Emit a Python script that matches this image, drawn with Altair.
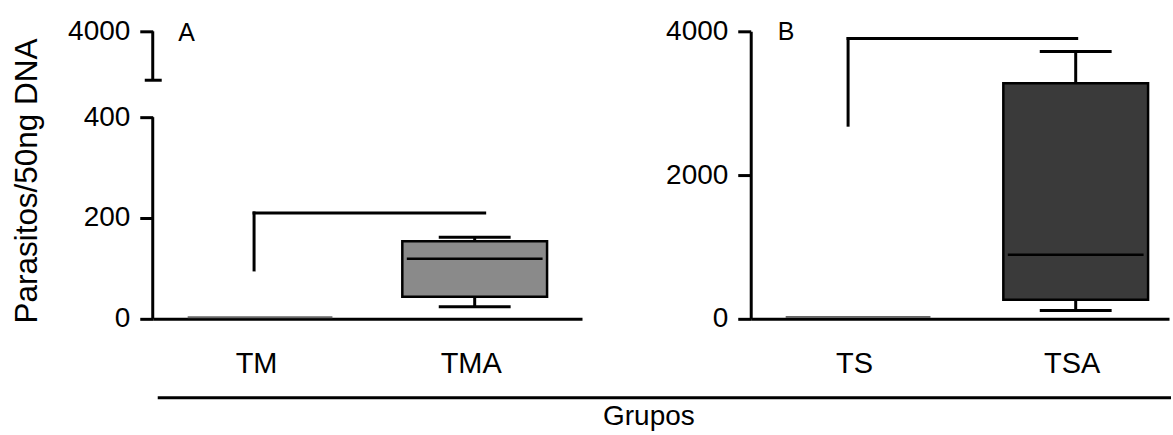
import altair as alt
import pandas as pd

# ---- data ----
groups_a = ["TM", "TMA"]
a_min = [3, 24]
a_q1 = [3, 44]
a_median = [3, 119]
a_q3 = [3, 154]
a_max = [3, 162]

groups_b = ["TS", "TSA"]
b_min = [25, 115]
b_q1 = [25, 264]
b_median = [25, 893]
b_q3 = [25, 3278]
b_max = [25, 3718]

bracket_a = {"from": ["TM"], "to": ["TMA"], "top": [210], "bottom": [97]}
bracket_b = {"from": ["TS"], "to": ["TSA"], "top": [3899], "bottom": [2694]}

# broken y axis of panel A: lower segment 0-400, upper segment 500-4000
a_seg_start = [0, 500]
a_seg_end = [400, 4000]
a_break_value = [500]

ticks_a = [0, 200, 400, 4000]
ticks_b = [0, 2000, 4000]

FONT = "Liberation Sans"


def y_axis(values, title=None, domain=True, **kw):
    return alt.Axis(values=values, tickSize=13, tickWidth=3, domain=domain, domainWidth=3,
                    labelFontSize=28, labelPadding=10, grid=False,
                    labelFlush=False, labelOverlap=False, format="d",
                    title=title, **kw)


x_axis = alt.Axis(ticks=False, domainWidth=3, labelFontSize=29, labelPadding=31,
                  labelOffset=-4, labelAngle=0, grid=False, title=None)


def panel_layers(groups, mins, q1s, meds, q3s, maxs, bracket, xscale, yscale, yaxis,
                 fill, br_dx, br_dx2):
    df = pd.DataFrame(dict(group=groups, lo=mins, q1=q1s, med=meds, q3=q3s, hi=maxs))

    def Y(f):
        return alt.Y(f"{f}:Q", scale=yscale, axis=yaxis, title=None)

    X = alt.X("group:N", scale=xscale, axis=x_axis, title=None)
    base = alt.Chart(df)
    real = base.transform_filter("datum.q3 - datum.q1 > 10")
    flat = base.transform_filter("datum.q3 - datum.q1 <= 10")

    box = real.mark_bar(size=145, fill=fill, stroke="black", strokeWidth=2.5).encode(
        x=X, y=Y("q1"), y2="q3")
    w_up = real.mark_rule(strokeWidth=3, color="black").encode(x=X, y=Y("q3"), y2="hi")
    w_lo = real.mark_rule(strokeWidth=3, color="black").encode(x=X, y=Y("lo"), y2="q1")
    cap_up = real.mark_tick(size=72, thickness=3, color="black", opacity=1).encode(x=X, y=Y("hi"))
    cap_lo = real.mark_tick(size=72, thickness=3, color="black", opacity=1).encode(x=X, y=Y("lo"))
    med = real.mark_tick(size=136, thickness=2.5, color="black", opacity=1).encode(x=X, y=Y("med"))
    flat_line = flat.mark_tick(size=145, thickness=2, color="#666666", opacity=1).encode(
        x=X, y=Y("med"))

    bdf = pd.DataFrame(bracket)
    XB = alt.X("from:N", scale=xscale, axis=x_axis, title=None)
    br_v = alt.Chart(bdf).mark_rule(strokeWidth=3, color="black", xOffset=br_dx,
                                    strokeCap="square").encode(
        x=XB, y=Y("top"), y2="bottom")
    br_h = alt.Chart(bdf).mark_rule(strokeWidth=3, color="black", xOffset=br_dx,
                                    x2Offset=br_dx2, strokeCap="square").encode(
        x=XB, x2="to:N", y=Y("top"))
    return [box, w_up, w_lo, cap_up, cap_lo, med, flat_line, br_v, br_h], Y


# ---------------- Panel A (broken axis) ----------------
xs_a = alt.Scale(type="point", domain=groups_a, padding=0.5, align=0.5)
ys_a = alt.Scale(domain=[0, 400, 500, 4000], range=[288, 86, 49, 0], nice=False, zero=False)
axis_a = y_axis(ticks_a, title="Parasitos/50ng DNA", domain=False, titleFontSize=31.5,
                titleFontWeight="normal", titleX=-125, titleY=149.5, titleAngle=270,
                titleAlign="center", titleBaseline="middle")
layers_a, Ya = panel_layers(groups_a, a_min, a_q1, a_median, a_q3, a_max, bracket_a, xs_a,
                            ys_a, axis_a, "#8a8a8a", -6, 10)

seg_df = pd.DataFrame({"s": a_seg_start, "e": a_seg_end})
axis_segs = alt.Chart(seg_df).mark_rule(strokeWidth=3, color="black").encode(
    x=alt.value(0), y=Ya("s"), y2="e")
brk_df = pd.DataFrame({"b": a_break_value})
axis_break = alt.Chart(brk_df).mark_rule(strokeWidth=3, color="black").encode(
    x=alt.value(-8), x2=alt.value(9), y=Ya("b"))

deco_df = pd.DataFrame({"t": ["A"]})
label_a = alt.Chart(deco_df).mark_text(text="A", fontSize=25, align="center",
                                       baseline="middle", color="black").encode(
    x=alt.value(34), y=alt.value(2))
# bottom separator line and shared x-axis title
grupos_line = alt.Chart(deco_df).mark_rule(strokeWidth=3, color="black").encode(
    x=alt.value(5), x2=alt.value(1020), y=alt.value(367))
grupos_text = alt.Chart(deco_df).mark_text(text="Grupos", fontSize=28, align="center",
                                           baseline="alphabetic", color="black").encode(
    x=alt.value(497), y=alt.value(394))

panel_a = alt.layer(*layers_a, axis_segs, axis_break, label_a, grupos_line,
                    grupos_text).properties(width=430, height=288)

# ---------------- Panel B ----------------
xs_b = alt.Scale(type="point", domain=groups_b, padding=0.461, align=0.535)
ys_b = alt.Scale(domain=[0, 4000], nice=False, zero=True)
layers_b, Yb = panel_layers(groups_b, b_min, b_q1, b_median, b_q3, b_max, bracket_b, xs_b,
                            ys_b, y_axis(ticks_b), "#3a3a3a", -10, 1)
label_b = alt.Chart(deco_df).mark_text(text="B", fontSize=25, align="center",
                                       baseline="middle", color="black").encode(
    x=alt.value(35.5), y=alt.value(1))
panel_b = alt.layer(*layers_b, label_b).properties(width=419, height=288)

chart = alt.hconcat(panel_a, panel_b, spacing=169, bounds="flush").properties(
    padding={"left": 12, "top": 17, "right": 0, "bottom": 0}
).configure(font=FONT).configure_view(stroke=None).configure_axis(
    domainColor="black", tickColor="black", labelColor="black", titleColor="black",
    grid=False, labelFont=FONT, titleFont=FONT)

chart.save("out.html", embed_options={"renderer": "svg", "actions": False})
